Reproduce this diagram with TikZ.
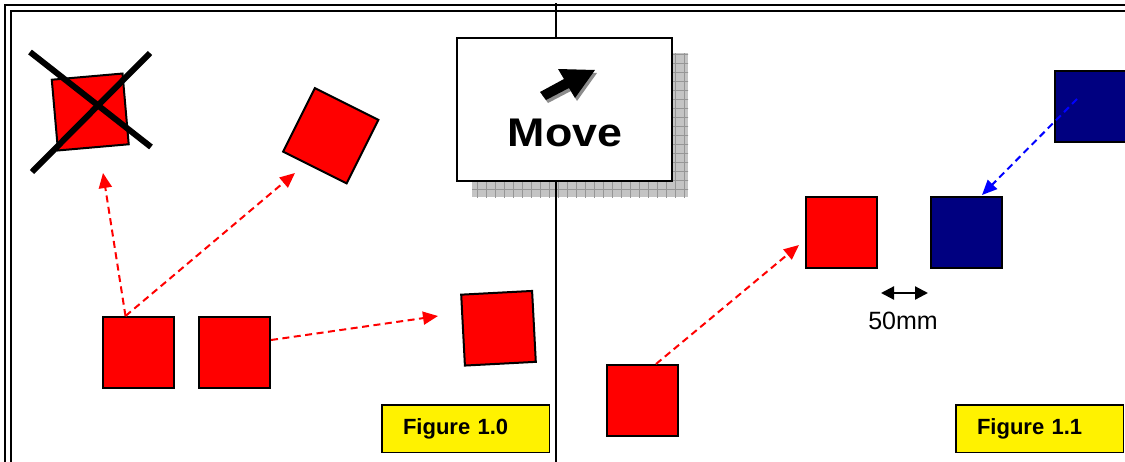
\documentclass[tikz,border=0pt]{standalone}
\usepackage{fontspec}
\setmainfont{Liberation Sans}
\usetikzlibrary{arrows.meta}
\definecolor{navyblue}{RGB}{0,0,128}
\definecolor{shadowgray}{RGB}{196,196,196}
\definecolor{gridgray}{RGB}{150,150,150}
\definecolor{iconshadow}{RGB}{140,140,140}
\begin{document}
\begin{tikzpicture}[x=1pt,y=-1pt,
  sq/.style={draw=black, line width=2pt, minimum size=71pt, inner sep=0pt},
  redsq/.style={sq, fill=red},
  bluesq/.style={sq, fill=navyblue},
  redarrow/.style={draw=red, line width=2pt, dash pattern=on 7pt off 4.5pt, -{Triangle[length=15pt,width=13pt]}},
  bluearrow/.style={redarrow, draw=blue},
  dimarrow/.style={draw=black, line width=2.2pt, {Triangle[length=13pt,width=13pt]}-{Triangle[length=13pt,width=13pt]}},
  frameline/.style={draw=black, line width=2pt},
  xline/.style={draw=black, line width=6pt},
  figbox/.style={draw=black, line width=1.5pt, fill=yellow, text width=125pt, inner xsep=21.25pt, inner ysep=0pt, minimum height=47.5pt, align=left, font=\bfseries\fontsize{22}{26}\selectfont}
]
\useasboundingbox (0,0) rectangle (1125,461);
\clip (0,0) rectangle (1125,461);
% frame
\draw[frameline] (5,5) rectangle (1140,475);
\draw[frameline] (10.5,10.5) rectangle (1135,470);
% shadow of Move box
\fill[shadowgray] (472,53) rectangle (688,197);
\begin{scope}
  \clip (472,53) rectangle (688,197);
  \draw[gridgray, line width=0.6pt, step=9pt] (468,50) grid (693,200);
\end{scope}
% divider
\draw[frameline] (556,3) -- (556,470);
% Move box
\node[draw=black, line width=2pt, fill=white, minimum width=215pt, minimum height=143pt, inner sep=0pt] (move) at (564.5,109.5) {};
\fill[iconshadow] (542,95) -- (566,82) -- (560,72) -- (597,73) -- (577,101) -- (571,91) -- (548,103) -- cycle;
\fill[black] (540,92) -- (564,79) -- (558,69) -- (595,70) -- (575,98) -- (569,88) -- (546,100) -- cycle;
\node[anchor=base, inner sep=0pt, font=\bfseries\fontsize{40}{44}\selectfont] (movetxt) at (565,146) {\scalebox{1.12}[1]{Move}};
% left panel squares
\node[redsq, rotate=5] (X) at (90.25,112) {};
\draw[xline] (30,52) -- (151,147);
\draw[xline] (32,172) -- (150,53);
\node[redsq, rotate=-26.6] (S2) at (330.75,135.75) {};
\node[redsq, rotate=3] (S3) at (498.5,328.25) {};
\node[redsq] (A) at (138.5,352.5) {};
\node[redsq] (B) at (234.5,352.5) {};
\coordinate (t1) at (103,173);
\coordinate (t2) at (295,173);
\coordinate (t3) at (438,316);
\draw[redarrow] ([xshift=-13pt]A.north) -- (t1);
\draw[redarrow] ([xshift=-13pt]A.north) -- (t2);
\draw[redarrow] ([yshift=12.5pt]B.east) -- (t3);
\node[figbox] (fig0) at (465.5,428.5) {Figure 1.0};
% right panel
\node[redsq] (C) at (642.5,400.5) {};
\node[redsq] (D) at (841.5,232.5) {};
\node[bluesq] (E) at (966.5,232.5) {};
\node[bluesq] (F) at (1090.5,106.5) {};
\coordinate (t4) at (799,245);
\coordinate (bs) at (1077,99);
\coordinate (t5) at (982,195);
\draw[redarrow] ([xshift=13.5pt]C.north) -- (t4);
\draw[bluearrow] (bs) -- (t5);
\coordinate (dimL) at (881,293);
\coordinate (dimR) at (928,293);
\draw[dimarrow] (dimL) -- (dimR);
\node[anchor=base, inner sep=0pt, font=\fontsize{25}{30}\selectfont] (dimtxt) at (903,329) {50mm};
\node[figbox] (fig1) at (1039.5,428.5) {Figure 1.1};
\end{tikzpicture}
\end{document}
